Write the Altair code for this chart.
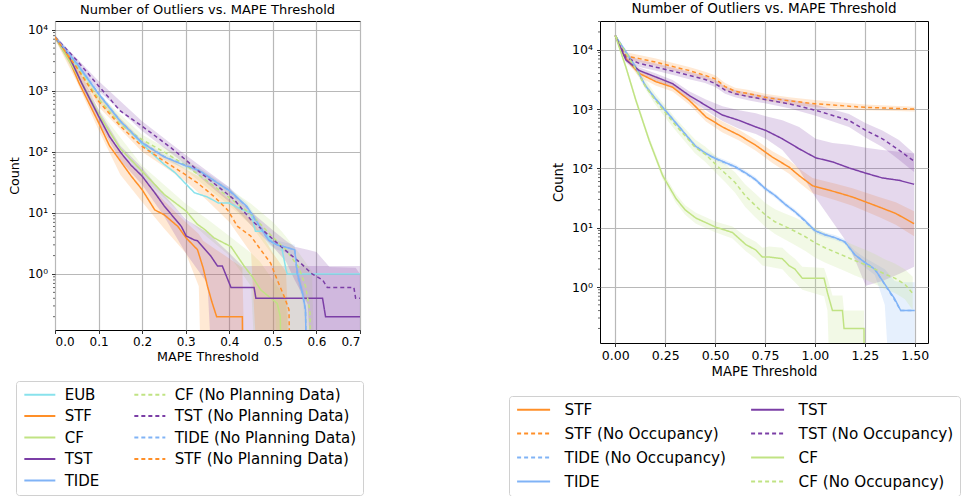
import altair as alt
import pandas as pd

FONT = "DejaVu Sans"
FLOOR = 1e-3  # zero counts are drawn here, far below the axis floor

# Colours shared by both panels
C_EUB = "#88e2ec"
C_STF = "#ff8f28"
C_CF = "#c0e383"
C_TST = "#7b3ea6"
C_TIDE = "#80b3f6"
SOLID = [1, 0]
DASH = [4, 3]

# ---------------- Left panel: with / without planning data ----------------
EUB_X = [0, 0.05, 0.1, 0.15, 0.2, 0.225, 0.25, 0.275, 0.3, 0.32, 0.35, 0.375, 0.4, 0.425, 0.45, 0.46, 0.48, 0.5, 0.52, 0.53, 0.533, 0.7]
EUB_Y = [7600, 2630, 890, 316, 135, 91, 63, 46, 30, 21.4, 18.2, 14.5, 14.5, 11.7, 10, 5.0, 5.0, 3.2, 2.8, 1.2, 1.0, 1.0]

STF_X = [0, 0.03, 0.055, 0.1, 0.125, 0.153, 0.175, 0.2, 0.229, 0.251, 0.282, 0.301, 0.327, 0.34, 0.35, 0.36, 0.371, 0.43, 0.432]
STF_Y = [7600, 3550, 1350, 302, 126, 66, 40, 24, 11.2, 9.3, 6.0, 3.9, 2.5, 1.26, 0.63, 0.35, 0.2, 0.2, 0]
STF_BX = [0, 0.05, 0.1, 0.15, 0.2, 0.25, 0.3, 0.33, 0.34, 0.37, 0.4, 0.43, 0.44]
STF_LO = [6900, 1410, 229, 42, 15.1, 5.6, 2.2, 0.63, 0, 0, 0, 0, 0]
STF_HI = [8300, 2240, 417, 95, 38, 15.8, 7.1, 4.5, 3.5, 2.5, 1.8, 1.26, 0]

CF_X = [0, 0.05, 0.1, 0.15, 0.2, 0.251, 0.301, 0.327, 0.343, 0.365, 0.404, 0.434, 0.453, 0.472, 0.51, 0.517, 0.523]
CF_Y = [7600, 1900, 417, 112, 48, 20, 10.7, 6.5, 5.4, 3.9, 2.8, 1.35, 0.9, 0.55, 0.33, 0.2, 0]
CF_BX = [0, 0.1, 0.2, 0.3, 0.35, 0.4, 0.45, 0.47, 0.5, 0.53, 0.55]
CF_LO = [7080, 355, 38, 8.3, 4.0, 2.0, 0.63, 0, 0, 0, 0]
CF_HI = [8130, 500, 60, 14.1, 7.9, 4.2, 2.2, 1.6, 0.8, 0.4, 0]

TST_X = [0, 0.03, 0.061, 0.1, 0.125, 0.152, 0.175, 0.2, 0.229, 0.251, 0.29, 0.301, 0.32, 0.327, 0.358, 0.373, 0.384, 0.404, 0.457, 0.461, 0.614, 0.621, 0.7]
TST_Y = [7600, 4000, 1350, 385, 178, 95, 60, 40, 21.4, 12.9, 6.0, 4.2, 3.6, 3.5, 1.95, 1.35, 1.35, 0.6, 0.6, 0.4, 0.4, 0.2, 0.2]
TST_BX = [0, 0.05, 0.1, 0.15, 0.2, 0.25, 0.3, 0.35, 0.37, 0.4, 0.43, 0.7]
TST_LO = [7080, 1780, 302, 72, 29, 8.9, 2.2, 0.7, 0, 0, 0, 0]
TST_HI = [8130, 2630, 490, 126, 55, 20, 7.9, 4.8, 3.5, 2.2, 1.35, 1.35]

TIDE_X = [0, 0.05, 0.1, 0.15, 0.2, 0.25, 0.3, 0.33, 0.37, 0.4, 0.44, 0.465, 0.49, 0.51, 0.55, 0.556, 0.568, 0.575, 0.58]
TIDE_Y = [7600, 2820, 890, 316, 141, 83, 59, 50, 32, 23.4, 12.9, 6.9, 3.6, 3.0, 2.5, 1.05, 0.49, 0.26, 0]
TIDE_LO = [6800, 2500, 790, 280, 126, 74, 53, 45, 28.5, 20.8, 11.3, 5.9, 3.0, 2.5, 2.0, 0.8, 0.35, 0.15, 0]
TIDE_HI = [8400, 3150, 1000, 355, 158, 93, 66, 56, 36, 26.3, 14.5, 8.0, 4.2, 3.5, 3.0, 1.35, 0.65, 0.4, 0]

CFN_X = [0, 0.05, 0.1, 0.15, 0.2, 0.25, 0.3, 0.35, 0.4, 0.45, 0.5, 0.53, 0.56, 0.575, 0.585, 0.59]
CFN_Y = [7600, 2500, 740, 282, 158, 100, 60, 33, 17.8, 9.5, 4.0, 2.5, 1.26, 0.63, 0.25, 0]
CFN_BX = [0, 0.1, 0.2, 0.3, 0.4, 0.45, 0.5, 0.52, 0.56, 0.59, 0.6]
CFN_LO = [7080, 630, 132, 50, 13.2, 6.3, 2.0, 0, 0, 0, 0]
CFN_HI = [8130, 890, 190, 76, 25, 14.1, 7.1, 5.0, 2.2, 1.1, 0]

TSTN_X = [0, 0.05, 0.1, 0.15, 0.2, 0.266, 0.3, 0.327, 0.373, 0.411, 0.449, 0.48, 0.51, 0.533, 0.564, 0.59, 0.614, 0.625, 0.686, 0.69, 0.7]
TSTN_Y = [7600, 3160, 1200, 468, 263, 117, 74, 50, 27.5, 16.6, 7.8, 5.0, 3.2, 2.3, 1.5, 1.0, 0.8, 0.6, 0.6, 0.4, 0.4]
TSTN_BX = [0, 0.1, 0.2, 0.3, 0.35, 0.4, 0.45, 0.5, 0.53, 0.55, 0.58, 0.6, 0.63, 0.69, 0.7]
TSTN_LO = [7240, 1000, 219, 62, 30, 15.1, 6.3, 2.8, 1.6, 0.8, 0.32, 0, 0, 0, 0]
TSTN_HI = [7940, 1445, 316, 89, 48, 26.3, 10.5, 5.2, 3.5, 2.8, 2.5, 2.3, 1.3, 1.26, 1.0]

TIDEN_X = [0, 0.05, 0.1, 0.15, 0.2, 0.25, 0.3, 0.33, 0.37, 0.4, 0.44, 0.465, 0.49, 0.51, 0.55, 0.556, 0.568, 0.575, 0.58]
TIDEN_Y = [7600, 2800, 900, 320, 143, 84, 60, 50, 32, 23, 12.6, 6.7, 3.6, 3.0, 2.5, 1.0, 0.48, 0.25, 0]

STFN_X = [0, 0.05, 0.1, 0.15, 0.2, 0.25, 0.3, 0.327, 0.365, 0.396, 0.419, 0.449, 0.472, 0.495, 0.51, 0.526, 0.537, 0.542]
STFN_Y = [7600, 2400, 676, 263, 123, 71, 42, 31, 18.6, 11.2, 6.0, 4.2, 2.5, 1.5, 0.8, 0.43, 0.26, 0]
STFN_BX = [0, 0.1, 0.2, 0.3, 0.35, 0.4, 0.45, 0.475, 0.5, 0.53, 0.55]
STFN_LO = [6900, 550, 100, 33, 15.8, 7.1, 2.2, 0, 0, 0, 0]
STFN_HI = [8300, 830, 151, 52, 33, 16.6, 7.6, 4.5, 2.2, 1.1, 0]

# ---------------- Right panel: with / without occupancy ----------------
R_STF_X = [0, 0.03, 0.053, 0.12, 0.204, 0.287, 0.37, 0.454, 0.537, 0.62, 0.704, 0.787, 0.871, 0.92, 0.988, 1.104, 1.188, 1.321, 1.405, 1.497]
R_STF_Y = [17400, 9800, 7100, 4000, 2900, 2340, 1410, 740, 500, 363, 245, 155, 105, 76, 51, 40, 33, 22.4, 17.4, 11.7]
R_STF_LO = [17000, 9140, 6480, 3480, 2470, 1990, 1200, 615, 405, 295, 199, 123, 81, 58, 38, 29, 23.4, 15.1, 11.2, 7.2]
R_STF_HI = [17800, 10500, 7780, 4600, 3410, 2750, 1660, 890, 615, 447, 301, 195, 136, 100, 69, 55, 46.5, 33, 27, 19]

R_STFN_X = [0, 0.053, 0.12, 0.204, 0.3, 0.37, 0.45, 0.5, 0.55, 0.6, 0.67, 0.75, 0.871, 1.0, 1.25, 1.5]
R_STFN_Y = [17400, 7900, 7100, 6200, 5100, 4470, 3700, 3240, 2400, 2000, 1820, 1580, 1380, 1230, 1070, 1000]
R_STFN_LO = [17000, 6900, 6200, 5400, 4450, 3900, 3200, 2820, 2090, 1740, 1580, 1380, 1200, 1070, 960, 910]
R_STFN_HI = [17800, 9100, 8200, 7100, 5900, 5150, 4250, 3730, 2760, 2300, 2090, 1820, 1590, 1420, 1190, 1100]

R_TIDEN_X = [0, 0.05, 0.1, 0.15, 0.2, 0.25, 0.3, 0.35, 0.4, 0.45, 0.5, 0.55, 0.6, 0.65, 0.7, 0.75, 0.8, 0.85, 0.9, 0.95, 1.0, 1.05, 1.1, 1.15, 1.2, 1.25, 1.3, 1.35, 1.4, 1.43, 1.5]
R_TIDEN_Y = [17400, 9500, 5200, 2500, 1500, 950, 600, 380, 240, 180, 147, 125, 106, 84, 65, 46, 35, 25, 18.5, 13, 8.9, 7.6, 6.8, 5.7, 3.5, 2.6, 2.0, 1.1, 0.6, 0.4, 0.4]

R_TIDE_X = [0, 0.05, 0.1, 0.15, 0.2, 0.25, 0.3, 0.35, 0.4, 0.45, 0.5, 0.55, 0.6, 0.65, 0.7, 0.75, 0.8, 0.85, 0.9, 0.95, 1.0, 1.05, 1.1, 1.15, 1.2, 1.25, 1.3, 1.35, 1.4, 1.43, 1.5]
R_TIDE_Y = [17400, 9550, 5250, 2510, 1510, 955, 603, 380, 240, 182, 148, 126, 107, 85, 66, 46, 35, 25, 18.6, 13.2, 8.9, 7.6, 6.8, 5.8, 3.5, 2.6, 2.0, 1.12, 0.63, 0.4, 0.4]
R_TIDE_LO = [17000, 8700, 4790, 2290, 1380, 871, 550, 347, 219, 166, 135, 115, 98, 78, 60, 42, 32, 22.8, 17.0, 12.0, 8.1, 6.9, 6.2, 5.3, 3.0, 2.15, 1.6, 0.5, 0, 0, 0]
R_TIDE_HI = [17800, 10500, 5750, 2750, 1650, 1050, 661, 416, 263, 199, 162, 138, 117, 93, 72, 50, 38, 27.4, 20.4, 14.5, 9.8, 8.3, 7.5, 6.4, 4.1, 3.1, 2.5, 2.0, 1.26, 1.2, 1.2]

R_TST_X = [0, 0.053, 0.12, 0.204, 0.287, 0.37, 0.454, 0.537, 0.62, 0.704, 0.754, 0.837, 0.921, 1.004, 1.088, 1.171, 1.255, 1.338, 1.421, 1.497]
R_TST_Y = [17400, 6760, 4470, 3470, 2690, 1700, 1150, 794, 646, 500, 437, 316, 214, 151, 129, 102, 83, 69, 63, 54]
R_TST_LO = [17000, 6170, 3980, 3020, 2340, 1450, 955, 631, 468, 380, 316, 204, 95, 32, 12.6, 5.0, 1.05, 1.26, 1.66, 2.2]
R_TST_HI = [17800, 7410, 5010, 3980, 3090, 2000, 1450, 1120, 955, 851, 759, 646, 501, 316, 269, 251, 224, 204, 191, 178]

R_TSTN_X = [0, 0.053, 0.12, 0.204, 0.3, 0.37, 0.45, 0.5, 0.55, 0.6, 0.67, 0.75, 0.871, 1.004, 1.171, 1.255, 1.338, 1.421, 1.497]
R_TSTN_Y = [17400, 7400, 5900, 5100, 4260, 3700, 3160, 2700, 2090, 1820, 1620, 1450, 1230, 955, 645, 437, 316, 204, 132]
R_TSTN_LO = [17000, 6450, 5150, 4450, 3700, 3200, 2750, 2350, 1820, 1580, 1400, 1250, 1030, 775, 500, 330, 230, 140, 87]
R_TSTN_HI = [17800, 8500, 6800, 5850, 4900, 4250, 3630, 3100, 2400, 2090, 1860, 1680, 1470, 1180, 830, 580, 435, 300, 178]

R_CF_X = [0, 0.053, 0.103, 0.17, 0.237, 0.304, 0.35, 0.404, 0.504, 0.587, 0.654, 0.704, 0.737, 0.771, 0.837, 0.87, 0.9, 0.937, 1.046, 1.063, 1.088, 1.138, 1.146, 1.246, 1.25]
R_CF_Y = [17400, 5130, 1410, 295, 76, 31, 20, 14.5, 10.2, 8.3, 5.2, 4.2, 3.2, 3.2, 3.0, 2.3, 2.0, 1.4, 1.4, 0.8, 0.4, 0.4, 0.2, 0.2, 0]
R_CF_LO = [17000, 4570, 1260, 263, 66, 26, 16.6, 11.7, 8.3, 6.6, 4.0, 3.0, 2.3, 2.2, 2.0, 1.5, 1.2, 0.9, 0.7, 0.4, 0, 0, 0, 0, 0]
R_CF_HI = [17800, 5750, 1620, 339, 89, 37, 24, 17.8, 12.6, 10.5, 7.1, 5.8, 4.6, 4.8, 4.6, 3.6, 3.0, 2.2, 2.1, 1.4, 0.72, 0.72, 0.4, 0.4, 0]

R_CFN_X = [0, 0.05, 0.1, 0.15, 0.2, 0.25, 0.3, 0.35, 0.4, 0.45, 0.5, 0.55, 0.6, 0.65, 0.7, 0.75, 0.8, 0.85, 0.9, 0.95, 1.0, 1.05, 1.1, 1.15, 1.2, 1.25, 1.3, 1.35, 1.4, 1.45, 1.49]
R_CFN_Y = [17400, 9300, 4900, 2450, 1420, 880, 545, 355, 228, 174, 120, 83, 58, 35, 24, 16.6, 12.6, 10.5, 8.7, 7.1, 5.6, 4.6, 3.9, 3.3, 2.8, 2.4, 2.0, 1.66, 1.41, 1.12, 0.78]
R_CFN_LO = [17000, 8490, 4360, 2190, 1200, 724, 446, 282, 178, 129, 87, 59, 39, 22.6, 15.1, 10.5, 7.8, 6.3, 5.1, 4.1, 3.15, 2.6, 2.2, 1.86, 1.57, 1.35, 1.12, 0.93, 0.79, 0.63, 0.41]
R_CFN_HI = [17800, 10200, 5740, 3160, 1820, 1150, 708, 468, 308, 235, 166, 117, 86, 54, 38, 26.3, 20.4, 17.4, 14.8, 12.3, 10.0, 8.2, 6.9, 5.9, 5.0, 4.3, 3.6, 2.95, 2.5, 2.0, 1.49]

# Legend entries, listed down the first column and then the second
LEFT_ORDER = [
    ("EUB", C_EUB, SOLID), ("STF", C_STF, SOLID), ("CF", C_CF, SOLID),
    ("TST", C_TST, SOLID), ("TIDE", C_TIDE, SOLID),
    ("CF (No Planning Data)", C_CF, DASH), ("TST (No Planning Data)", C_TST, DASH),
    ("TIDE (No Planning Data)", C_TIDE, DASH), ("STF (No Planning Data)", C_STF, DASH),
]
RIGHT_ORDER = [
    ("STF", C_STF, SOLID), ("STF (No Occupancy)", C_STF, DASH),
    ("TIDE (No Occupancy)", C_TIDE, DASH), ("TIDE", C_TIDE, SOLID),
    ("TST", C_TST, SOLID), ("TST (No Occupancy)", C_TST, DASH),
    ("CF", C_CF, SOLID), ("CF (No Occupancy)", C_CF, DASH),
]

LEFT_LINES = [
    ("EUB", EUB_X, EUB_Y), ("STF", STF_X, STF_Y), ("CF", CF_X, CF_Y),
    ("TST", TST_X, TST_Y), ("TIDE", TIDE_X, TIDE_Y),
    ("CF (No Planning Data)", CFN_X, CFN_Y), ("TST (No Planning Data)", TSTN_X, TSTN_Y),
    ("TIDE (No Planning Data)", TIDEN_X, TIDEN_Y), ("STF (No Planning Data)", STFN_X, STFN_Y),
]
LEFT_BANDS = [
    ("STF", C_STF, STF_BX, STF_LO, STF_HI), ("CF", C_CF, CF_BX, CF_LO, CF_HI),
    ("TST", C_TST, TST_BX, TST_LO, TST_HI), ("TIDE", C_TIDE, TIDE_X, TIDE_LO, TIDE_HI),
    ("CF (No Planning Data)", C_CF, CFN_BX, CFN_LO, CFN_HI),
    ("TST (No Planning Data)", C_TST, TSTN_BX, TSTN_LO, TSTN_HI),
    ("STF (No Planning Data)", C_STF, STFN_BX, STFN_LO, STFN_HI),
]
RIGHT_LINES = [
    ("STF", R_STF_X, R_STF_Y), ("STF (No Occupancy)", R_STFN_X, R_STFN_Y),
    ("TIDE (No Occupancy)", R_TIDEN_X, R_TIDEN_Y), ("TIDE", R_TIDE_X, R_TIDE_Y),
    ("TST", R_TST_X, R_TST_Y), ("TST (No Occupancy)", R_TSTN_X, R_TSTN_Y),
    ("CF", R_CF_X, R_CF_Y), ("CF (No Occupancy)", R_CFN_X, R_CFN_Y),
]
RIGHT_BANDS = [
    ("STF", C_STF, R_STF_X, R_STF_LO, R_STF_HI),
    ("STF (No Occupancy)", C_STF, R_STFN_X, R_STFN_LO, R_STFN_HI),
    ("TIDE", C_TIDE, R_TIDE_X, R_TIDE_LO, R_TIDE_HI),
    ("TST", C_TST, R_TST_X, R_TST_LO, R_TST_HI),
    ("TST (No Occupancy)", C_TST, R_TSTN_X, R_TSTN_LO, R_TSTN_HI),
    ("CF", C_CF, R_CF_X, R_CF_LO, R_CF_HI),
    ("CF (No Occupancy)", C_CF, R_CFN_X, R_CFN_LO, R_CFN_HI),
]


def line_frame(spec):
    rows = []
    for name, xs, ys in spec:
        for x, c in zip(xs, ys):
            rows.append({"series": name, "x": x, "y": max(c, FLOOR)})
    return pd.DataFrame(rows)


def band_frame(spec):
    rows = []
    for name, colour, xs, lo, hi in spec:
        for x, a, b in zip(xs, lo, hi):
            rows.append({"series": name, "colour": colour, "x": x,
                         "y": max(a, FLOOR), "y2": max(b, FLOOR)})
    return pd.DataFrame(rows)


def minor_frame(lo, hi):
    vals = [k * 10.0 ** e for e in range(-2, 6) for k in range(2, 10)]
    return pd.DataFrame({"y": [v for v in vals if lo < v < hi]})


SUPER = ("datum.value < 5 ? '10⁰' : datum.value < 50 ? '10¹' : "
         "datum.value < 500 ? '10²' : datum.value < 5000 ? '10³' : '10⁴'")

# Legend key: a horizontal stroke three symbol-widths long
KEY_PATH = "M-3,0H3"


def panel(lines, bands, order, x_dom, x_ticks, x_fmt, y_dom, w, h,
          fs, title_fs, title_off, leg_x, leg_y, leg_fs, key_len, label_gap, col_pad, row_pad):
    names = [o[0] for o in order]
    cols = [o[1] for o in order]
    dashes = [o[2] for o in order]
    x_axis = alt.Axis(values=x_ticks, format=x_fmt, title="MAPE Threshold",
                      labelFontSize=fs, titleFontSize=title_fs - 0.3, labelPadding=3,
                      titlePadding=3)
    y_axis = alt.Axis(values=[1, 10, 100, 1000, 10000], labelExpr=SUPER, title="Count",
                      labelFontSize=fs, titleFontSize=title_fs - 0.3, labelPadding=4,
                      titlePadding=6)
    X = alt.X("x:Q", scale=alt.Scale(domain=x_dom, nice=False, zero=False), axis=x_axis)
    Y = alt.Y("y:Q", scale=alt.Scale(type="log", domain=y_dom, nice=False), axis=y_axis)
    unit = key_len / 3.0
    legend = alt.Legend(
        orient="none", legendX=leg_x, legendY=leg_y, columns=2, title=None,
        symbolType=KEY_PATH, symbolSize=unit * unit, symbolStrokeWidth=2,
        symbolOffset=unit, labelOffset=key_len + label_gap - 2 * unit,
        labelFont=FONT, labelFontSize=leg_fs, labelColor="black", labelLimit=500,
        columnPadding=col_pad, rowPadding=row_pad, padding=6,
        strokeColor="#d0d0d0", fillColor="white", cornerRadius=3,
    )
    band_layer = alt.Chart(band_frame(bands)).mark_area(opacity=0.2, clip=True).encode(
        x=X, y=Y, y2="y2:Q",
        fill=alt.Fill("colour:N", scale=None),
        detail="series:N",
    )
    line_layer = alt.Chart(line_frame(lines)).mark_line(clip=True, strokeWidth=1.5).encode(
        x=X, y=Y,
        color=alt.Color("series:N", scale=alt.Scale(domain=names, range=cols), legend=legend),
        strokeDash=alt.StrokeDash("series:N", scale=alt.Scale(domain=names, range=dashes),
                                  legend=legend),
    )
    minor = alt.Chart(minor_frame(*y_dom)).mark_rule(color="black", strokeWidth=0.6).encode(
        y=Y, x=alt.value(0), x2=alt.value(-2)
    )
    return alt.layer(band_layer, line_layer, minor).properties(
        width=w, height=h,
        title=alt.TitleParams("Number of Outliers vs. MAPE Threshold", font=FONT,
                              fontSize=title_fs, fontWeight="normal", color="black",
                              anchor="middle", offset=title_off),
    )


left = panel(LEFT_LINES, LEFT_BANDS, LEFT_ORDER, [0, 0.7],
             [0, 0.1, 0.2, 0.3, 0.4, 0.5, 0.6, 0.7], ".1f", [0.121, 13900], 305, 309,
             12, 13, 4, -39, 360, 15, 31, 7, 30, 5.5)
right = panel(RIGHT_LINES, RIGHT_BANDS, RIGHT_ORDER, [-0.0766, 1.5666],
              [0, 0.25, 0.5, 0.75, 1.0, 1.25, 1.5], ".2f", [0.1137, 30600], 328, 322,
              12.5, 13.5, 6, -91, 375, 15.2, 33, 12.4, 21, 8)

chart = alt.hconcat(left, right, spacing=144).resolve_scale(
    x="independent", y="independent", color="independent", strokeDash="independent",
).resolve_legend(color="independent", strokeDash="independent").properties(
    padding={"left": 7, "top": 1, "right": 0, "bottom": 0}
).configure_view(stroke="black", strokeWidth=1).configure_axis(
    labelFont=FONT, titleFont=FONT, labelColor="black", titleColor="black",
    titleFontWeight="normal", domain=False, tickColor="black", tickSize=3.5,
    tickWidth=0.8, gridColor="#b8b8b8", gridWidth=1.2,
)

chart.save("out.html", embed_options={"renderer": "svg", "actions": False})
